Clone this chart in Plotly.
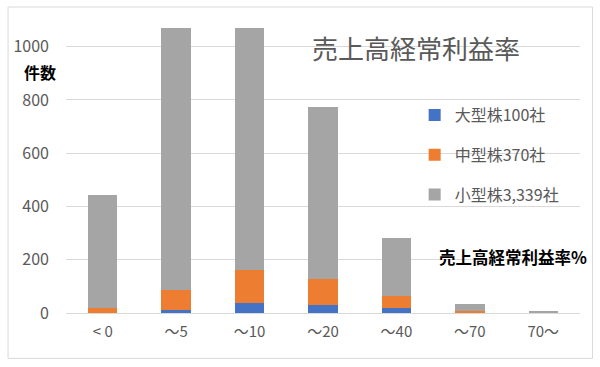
import plotly.graph_objects as go

categories = ["< 0", "～5", "～10", "～20", "～40", "～70", "70～"]
large_caps = [1, 10, 38, 29, 20, 1, 1]
mid_caps = [17, 75, 125, 97, 43, 7, 1]
small_caps = [424, 985, 907, 646, 220, 24, 4]
series_names = ["大型株100社", "中型株370社", "小型株3,339社"]
colors = ["#4472C4", "#ED7D31", "#A5A5A5"]
y_ticks = [0, 200, 400, 600, 800, 1000]

FONT = "Noto Sans CJK JP"

fig = go.Figure()
for i, (name, vals) in enumerate(zip(series_names, [large_caps, mid_caps, small_caps])):
    fig.add_trace(go.Bar(
        x=categories, y=vals, name=name, legendgroup=f"g{i}",
        marker=dict(color=colors[i], line=dict(width=0)),
    ))

L, R, T, B = 66, 19.5, 20, 54.3
W, H = 600, 367
pw = W - L - R
ph = H - T - B

def px(x):
    return (x - L) / pw

def py(y):
    return (H - B - y) / ph

fig.update_layout(
    width=W, height=H,
    margin=dict(l=L, r=R, t=T, b=B, autoexpand=False),
    barmode="stack", bargap=0.6,
    plot_bgcolor="white", paper_bgcolor="white",
    font=dict(family=FONT, color="#595959", size=14),
    showlegend=True,
    legend=dict(
        x=px(415), y=py(98), xanchor="left", yanchor="top",
        traceorder="grouped", tracegroupgap=16,
        font=dict(size=16, color="#595959", family=FONT),
        bgcolor="rgba(0,0,0,0)",
    ),
    xaxis=dict(
        showgrid=False, showline=False, zeroline=False,
        tickfont=dict(size=15, color="#595959"),
        ticklabelstandoff=8,
    ),
    yaxis=dict(
        range=[0, 1100], tickvals=y_ticks,
        showgrid=True, gridcolor="#D9D9D9", gridwidth=1,
        zeroline=True, zerolinecolor="#D9D9D9", zerolinewidth=1,
        showline=False,
        tickfont=dict(size=16, color="#595959"),
        ticklabelstandoff=16,
    ),
    shapes=[dict(
        type="rect", xref="paper", yref="paper",
        x0=px(8), x1=px(593), y0=py(358), y1=py(7),
        line=dict(color="#D9D9D9", width=1), fillcolor="rgba(0,0,0,0)", layer="below",
    )],
    annotations=[
        dict(text="売上高経常利益率", xref="paper", yref="paper",
             x=px(310), y=py(47), xanchor="left", yanchor="middle",
             showarrow=False, font=dict(size=26, color="#595959", family=FONT)),
        dict(text="<b>件数</b>", xref="paper", yref="paper",
             x=px(40), y=py(72), xanchor="center", yanchor="middle",
             showarrow=False, font=dict(size=16, color="#000000", family=FONT)),
        dict(text="<b>売上高経常利益率%</b>", xref="paper", yref="paper",
             x=px(437), y=py(257), xanchor="left", yanchor="middle",
             showarrow=False, font=dict(size=16.5, color="#000000", family=FONT)),
    ],
)

fig.write_html("out.html")
